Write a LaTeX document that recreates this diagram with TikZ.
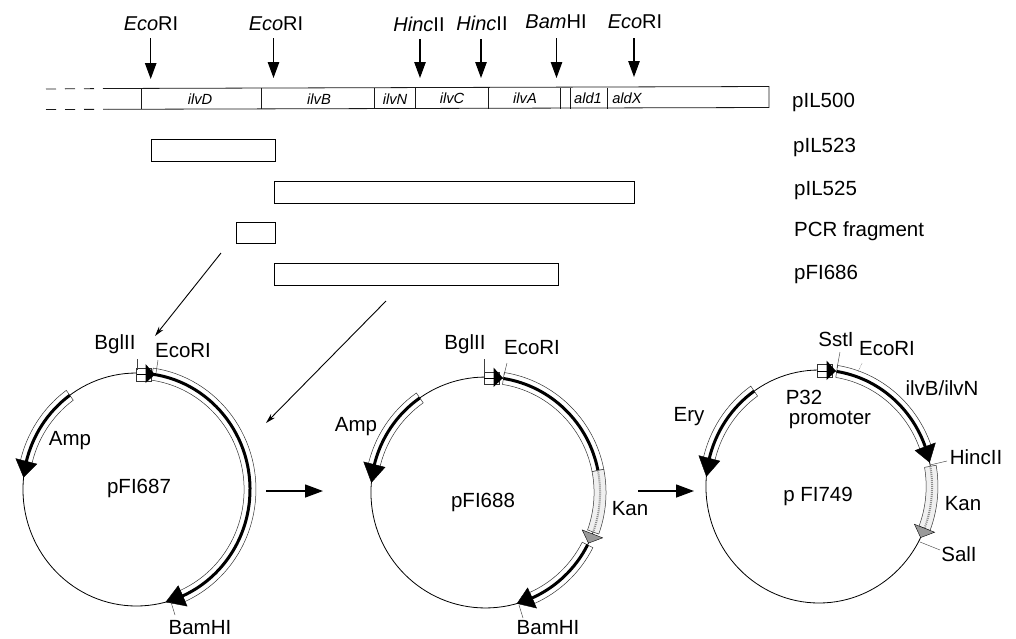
\documentclass[tikz,border=0pt]{standalone}
\usepackage{fontspec}
\setmainfont{Liberation Sans}
\usetikzlibrary{arrows.meta}
\tikzset{
  lab/.style={inner sep=0pt,font=\fontsize{20.5}{22}\selectfont},
  toplab/.style={inner sep=0pt,font=\fontsize{20}{22}\selectfont},
  genelab/.style={inner sep=0pt,font=\fontsize{14.7}{16}\selectfont\itshape},
  thinline/.style={line width=0.8pt,black!90},
  frag/.style={draw=black,line width=1pt,fill=white},
  sitearrow/.style={line width=1.1pt,-{Triangle[length=16pt,width=11.5pt]}},
  diagarrow/.style={line width=0.9pt,-{Stealth[length=10pt,width=5.5pt]}},
  stepflow/.style={line width=1.4pt,-{Triangle[length=18pt,width=13pt]}},
  tick/.style={line width=0.45pt,black!75},
  backbone/.style={line width=0.8pt,black},
  band/.style={draw=black!80,line width=0.5pt,fill=white},
  gthick/.style={line width=3pt,black},
}
\newcommand{\bandarc}[3][white]{%
  \path[band,fill=#1] (#2:121) arc[start angle=#2,end angle=#3,radius=121]
    -- (#3:109) arc[start angle=#3,end angle=#2,radius=109] -- cycle;}
\newcommand{\corearc}[2]{\draw[gthick] (#1:115) arc[start angle=#1,end angle=#2,radius=115];}
\newcommand{\headarc}[3][black]{\path[fill=#1,draw=black,line width=0.4pt] (#3:115) -- (#2:126) -- (#2:104) -- cycle;}
\begin{document}
\begin{tikzpicture}[x=1pt,y=-1pt]
\useasboundingbox (0,0) rectangle (1016,638);
% --- map bar
\draw[thinline] (108,88.5) -- (769,86.5) -- (769,107.5) -- (108,109.3);
\draw[thinline,dash pattern=on 10pt off 9pt] (46,89) -- (108,88.5);
\draw[thinline,dash pattern=on 10pt off 9pt] (46,109.5) -- (108,109.3);
\foreach \xx in {141.7,261,374.5,415.5,488,560,570.7,607}
  \draw[thinline] (\xx,88) -- (\xx,108.5);
\node[genelab] (gD) at (200,99) {ilvD};
\node[genelab] (gB) at (319,99) {ilvB};
\node[genelab] (gN) at (395,99) {ilvN};
\node[genelab] (gC) at (452,98) {ilvC};
\node[genelab] (gA) at (525,98) {ilvA};
\node[genelab] (g1) at (588,98) {ald1};
\node[genelab] (gX) at (627,98) {aldX};
% --- sites on the map
\node[toplab] (s1) at (151,24) {\textit{Eco}RI};
\node[toplab] (s2) at (276,24) {\textit{Eco}RI};
\node[toplab] (s3) at (419,24) {\textit{Hinc}II};
\node[toplab] (s4) at (482,23) {\textit{Hinc}II};
\node[toplab] (s5) at (556,22) {\textit{Bam}HI};
\node[toplab] (s6) at (635,22) {\textit{Eco}RI};
\foreach \nn/\xx/\ya/\yb in {a/150.7/38/79,b/273.5/38/78,c/420/39/78,d/481/39/78,e/556.5/38/78,f/634/38/77}{
  \coordinate (t\nn) at (\xx,\ya);
  \coordinate (h\nn) at (\xx,\yb);
  \draw[sitearrow] (t\nn) -- (h\nn);
}
% --- fragments
\node[frag,minimum width=123.5pt,minimum height=22pt,inner sep=0pt] (f523) at (213.3,150) {};
\node[frag,minimum width=360pt,minimum height=21.5pt,inner sep=0pt] (f525) at (454,192.3) {};
\node[frag,minimum width=38.5pt,minimum height=21pt,inner sep=0pt] (fpcr) at (256,232.5) {};
\node[frag,minimum width=284pt,minimum height=22pt,inner sep=0pt] (f686) at (416,274) {};
\node[lab,anchor=west] (l500) at (792,102) {pIL500};
\node[lab,anchor=west] (l523) at (793,147) {pIL523};
\node[lab,anchor=west] (l525) at (794,190) {pIL525};
\node[lab,anchor=west] (lpcr) at (794,231) {PCR fragment};
\node[lab,anchor=west] (l686) at (794,274) {pFI686};
% --- flow arrows
\coordinate (d1a) at (221,253); \coordinate (d1b) at (155,336);
\coordinate (d2a) at (386,301); \coordinate (d2b) at (266,423);
\draw[diagarrow] (d1a) -- (d1b);
\draw[diagarrow] (d2a) -- (d2b);
\coordinate (m1a) at (266,491); \coordinate (m1b) at (323,491);
\coordinate (m2a) at (638,491); \coordinate (m2b) at (694,491);
\draw[stepflow] (m1a) -- (m1b);
\draw[stepflow] (m2a) -- (m2b);

% --- pFI687
\begin{scope}[shift={(136.5,489.5)},x=0.987pt,y=1.013pt]
  \draw[backbone] (0:115) arc[start angle=0,end angle=360,radius=115];
  \bandarc{126}{168}\corearc{126}{167}\headarc{166}{174}
  \bandarc{82}{-66}\corearc{82}{-66}\headarc{-66}{-75}
\end{scope}
\draw[band] (136.5,368) rectangle (151,381);
\draw[line width=1pt] (136.5,374.5) -- (147,374.5);
\path[fill=black] (155,374.5) -- (145.5,364) -- (145.5,383) -- cycle;
\node[lab] (bg1) at (115,344) {BglII};
\node[lab] (ec1) at (183,351) {EcoRI};
\node[lab] (am1) at (70,441) {Amp};
\node[lab] (pn1) at (139,488) {pFI687};
\node[lab] (ba1) at (200,628) {BamHI};
\coordinate (k1a) at (137,359); \coordinate (k1b) at (137,370);
\coordinate (k1c) at (158,360); \coordinate (k1d) at (156,373);
\coordinate (k1e) at (171,602); \coordinate (k1f) at (175,615);
\draw[tick] (k1a) -- (k1b); \draw[tick] (k1c) -- (k1d); \draw[tick] (k1e) -- (k1f);

% --- pFI688
\begin{scope}[shift={(485.5,492.5)},x=0.996pt,y=1.004pt]
  \draw[backbone] (0:115) arc[start angle=0,end angle=360,radius=115];
  \bandarc{125}{168}\corearc{125}{167}\headarc{166}{175}
  \bandarc{81}{11}\corearc{81}{11}
  \bandarc[black!6]{11}{-20}
  \draw[black!45,line width=2pt,dash pattern=on 1pt off 1pt] (11:115) arc[start angle=11,end angle=-20,radius=115];
  \bandarc{-27}{-66}\corearc{-27}{-66}\headarc{-66}{-74}
  \headarc[black!40]{-21}{-26}
\end{scope}
\draw[band] (484,372) rectangle (499,384);
\draw[line width=1pt] (484,378) -- (495,378);
\path[fill=black] (503,378) -- (493.5,367.5) -- (493.5,387) -- cycle;
\node[lab] (bg2) at (465,344) {BglII};
\node[lab] (ec2) at (532,348) {EcoRI};
\node[lab] (am2) at (356,427) {Amp};
\node[lab] (pn2) at (483,502) {pFI688};
\node[lab] (kn2) at (630,509) {Kan};
\node[lab] (ba2) at (548,628) {BamHI};
\coordinate (k2a) at (484,359); \coordinate (k2b) at (484,373);
\coordinate (k2c) at (507,363); \coordinate (k2d) at (504,375);
\coordinate (k2e) at (519,605); \coordinate (k2f) at (523,618);
\draw[tick] (k2a) -- (k2b); \draw[tick] (k2c) -- (k2d); \draw[tick] (k2e) -- (k2f);

% --- pFI749
\begin{scope}[shift={(819,486.5)},x=0.983pt,y=1.013pt]
  \draw[backbone] (0:115) arc[start angle=0,end angle=360,radius=115];
  \bandarc{125}{168}\corearc{125}{167}\headarc{166}{175}
  \bandarc{81}{19}\corearc{81}{19}\headarc{20}{12}
  \bandarc[black!6]{10}{-21}
  \draw[black!45,line width=2pt,dash pattern=on 1pt off 1pt] (10:115) arc[start angle=10,end angle=-21,radius=115];
  \headarc[black!40]{-21}{-26}
\end{scope}
\draw[band] (817,364) rectangle (832,377);
\draw[line width=1pt] (817,371) -- (828,371);
\path[fill=black] (836,371) -- (826.5,360.5) -- (826.5,380) -- cycle;
\node[lab] (ss3) at (836,339) {SstI};
\node[lab] (ec3) at (887,349) {EcoRI};
\node[lab] (iv3) at (942,388) {ilvB/ilvN};
\node[lab] (p32) at (804,397) {P32};
\node[lab] (pro) at (830,420) {promoter};
\node[lab] (er3) at (689,417) {Ery};
\node[lab] (hc3) at (976,457) {HincII};
\node[lab] (kn3) at (963,504) {Kan};
\node[lab] (sl3) at (959,554) {SalI};
\node[lab] (pn3) at (818,496) {p FI749};
\coordinate (k3a) at (840,352); \coordinate (k3b) at (837,368);
\coordinate (k3c) at (862,363); \coordinate (k3d) at (858,372);
\coordinate (k3e) at (947,461); \coordinate (k3f) at (930,465);
\coordinate (k3g) at (940,550); \coordinate (k3h) at (920,542);
\draw[tick] (k3a) -- (k3b); \draw[tick,densely dotted] (k3c) -- (k3d);
\draw[tick] (k3e) -- (k3f); \draw[tick] (k3g) -- (k3h);
\end{tikzpicture}
\end{document}
